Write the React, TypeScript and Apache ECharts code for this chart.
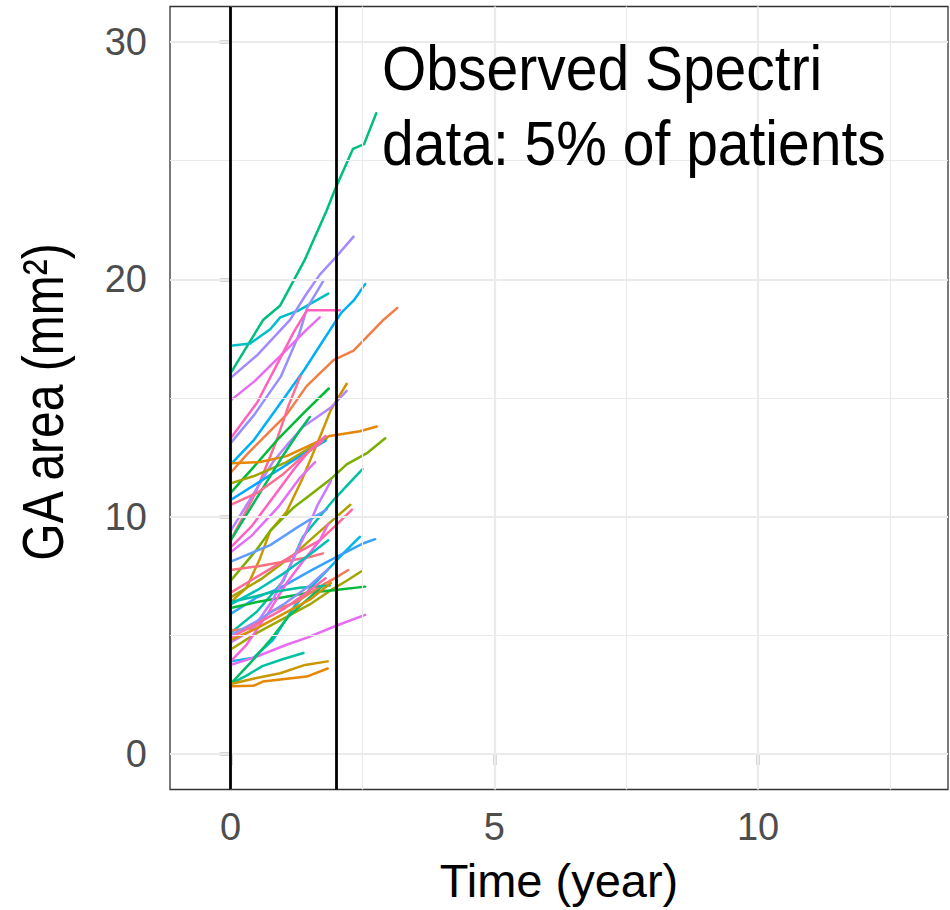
import React, { useEffect, useRef } from "react";
import * as echarts from "echarts";

// Axis ticks and gridlines
const xTicks = [0, 5, 10];
const xMinor = [2.5, 7.5, 12.5];
const yTicks = [0, 10, 20, 30];
const yMinor = [5, 15, 25];
const refLines = [0, 2];

// Observed GA area trajectories (time in years, area in mm²)
const p01 = [[0, 16.05], [0.62, 18.3], [0.94, 18.9], [1.4, 20.8], [1.82, 22.9], [1.98, 23.8], [2.32, 25.5], [2.53, 25.7], [2.76, 27.0]];
const p02 = [[0, 17.2], [0.37, 17.3], [0.75, 17.9], [0.94, 18.4], [1.3, 18.7], [1.85, 19.4]];
const p03 = [[0, 15.85], [0.5, 16.8], [1.13, 18.3], [1.41, 19.3], [1.69, 20.2], [1.98, 20.9], [2.33, 21.8]];
const p04 = [[0, 13.1], [0.45, 14.3], [0.95, 15.9], [1.3, 17.7], [1.45, 18.8], [1.76, 19.95]];
const p05 = [[0, 14.9], [0.45, 15.7], [1.0, 16.9], [1.45, 17.9], [1.69, 18.4]];
const p06 = [[0, 13.3], [0.5, 14.8], [0.9, 16.5], [1.2, 17.8], [1.45, 18.7], [1.82, 18.7], [2.07, 18.7]];
const p07 = [[0, 12.2], [0.43, 13.2], [0.95, 14.8], [1.4, 16.2], [1.69, 17.2], [1.98, 18.2], [2.1, 18.6], [2.33, 19.1], [2.55, 19.8]];
const p08 = [[0, 11.85], [0.3, 12.6], [0.7, 13.5], [1.06, 14.3], [1.44, 15.5], [1.95, 16.6], [2.33, 17.0], [2.9, 18.3], [3.16, 18.8]];
const p09 = [[0, 9.0], [0.45, 10.9], [0.87, 13.2], [1.1, 14.7], [1.32, 15.9]];
const p10 = [[0, 11.0], [0.4, 12.0], [0.87, 13.2], [1.4, 14.4], [1.86, 15.4]];
const p11 = [[0, 6.4], [0.3, 7.0], [0.55, 8.2], [0.75, 9.4], [1.06, 10.2], [1.36, 11.6], [1.7, 13.4], [1.9, 14.5], [2.2, 15.6]];
const p12 = [[0, 9.4], [0.5, 11.2], [0.8, 12.3], [1.06, 13.0], [1.38, 13.8], [1.9, 14.6], [2.2, 15.3]];
const p13 = [[0, 12.25], [0.56, 12.3], [1.06, 12.55], [1.5, 13.0], [1.88, 13.4], [2.45, 13.6], [2.77, 13.8]];
const p14 = [[0, 11.4], [0.43, 11.7], [1.06, 12.3], [1.5, 12.9], [1.82, 13.3]];
const p15 = [[0, 7.3], [0.49, 8.6], [0.75, 9.4], [1.2, 10.4], [1.5, 10.9], [1.88, 11.55], [2.2, 12.2], [2.6, 12.7], [2.93, 13.3]];
const p16 = [[0, 5.1], [0.5, 6.0], [1.0, 7.3], [1.37, 9.15], [1.95, 10.7], [2.2, 11.3], [2.5, 12.0]];
const p17 = [[0, 6.6], [0.6, 7.4], [1.2, 8.4], [1.6, 9.2], [1.88, 9.75], [2.27, 10.5]];
const p18 = [[0, 6.8], [0.6, 7.6], [1.2, 8.4], [1.69, 9.0], [1.98, 9.6], [2.3, 10.3]];
const p19 = [[0, 10.7], [0.5, 11.4], [1.0, 12.1], [1.5, 12.8], [1.8, 13.2]];
const p20 = [[0, 8.7], [0.4, 9.6], [0.8, 10.8], [1.2, 12.0], [1.5, 12.8], [1.8, 13.4]];
const p21 = [[0, 3.9], [0.43, 4.05], [0.8, 4.8], [1.2, 6.2], [1.6, 7.2], [1.9, 7.9], [2.2, 8.6], [2.45, 9.15]];
const p22 = [[0, 5.9], [0.5, 6.6], [0.94, 7.0], [1.5, 7.7], [2.01, 8.3], [2.52, 8.88], [2.74, 9.05]];
const p23 = [[0, 4.4], [0.5, 5.1], [1.0, 5.7], [1.5, 6.3], [1.9, 6.9], [2.2, 7.3], [2.48, 7.7]];
const p24 = [[0, 6.15], [0.5, 6.4], [1.0, 6.6], [1.5, 6.8], [1.95, 6.9], [2.55, 7.05]];
const p25 = [[0, 3.75], [0.43, 4.05], [1.06, 4.6], [1.45, 4.9], [2.0, 5.4], [2.55, 5.86]];
const p26 = [[0, 2.95], [0.3, 3.3], [0.6, 3.7], [1.0, 4.0], [1.38, 4.25]];
const p27 = [[0, 2.95], [0.4, 3.9], [0.75, 4.8], [1.1, 5.8], [1.5, 6.6], [1.8, 7.2]];
const p28 = [[0, 2.95], [0.49, 3.2], [0.94, 3.4], [1.41, 3.75], [1.84, 3.9]];
const p29 = [[0, 2.85], [0.43, 2.87], [0.61, 3.05], [1.44, 3.26], [1.84, 3.6]];
const p30 = [[0, 5.2], [0.43, 5.3], [0.75, 6.0], [1.25, 6.4], [1.69, 7.05], [2.01, 7.45], [2.23, 7.75]];
const p31 = [[0, 7.75], [0.5, 7.9], [1.0, 8.1], [1.5, 8.3], [1.75, 8.45]];
const p32 = [[0, 3.9], [0.3, 4.6], [0.7, 5.9], [1.06, 7.2], [1.4, 8.2], [1.69, 9.0], [1.85, 9.7]];
const p33 = [[0, 4.7], [0.4, 5.2], [0.8, 6.5], [1.1, 7.8], [1.4, 9.2], [1.65, 10.5], [1.9, 11.5]];
const p34 = [[0, 8.1], [0.75, 8.8], [1.3, 9.6], [1.82, 10.3]];
const p35 = [[0, 6.4], [0.4, 6.6], [0.75, 6.8], [1.3, 7.0], [1.88, 7.1]];
const p36 = [[0, 9.0], [0.5, 10.8], [1.0, 12.6], [1.3, 13.6], [1.5, 14.2]];
const p37 = [[0, 10.5], [0.5, 11.0], [1.0, 11.8], [1.4, 12.6], [1.75, 13.2]];
const p38 = [[0, 5.0], [0.5, 5.6], [1.0, 6.3], [1.5, 7.1], [1.85, 7.8]];
const p39 = [[0, 4.8], [0.5, 5.3], [1.0, 5.9], [1.5, 6.5], [1.9, 7.2]];
const p40 = [[0, 6.3], [0.5, 6.9], [1.0, 7.6], [1.5, 8.4], [1.85, 9.0]];
const p41 = [[0, 8.5], [0.4, 9.2], [0.9, 10.4], [1.3, 11.6], [1.6, 12.3]];
const p42 = [[0, 4.9], [0.5, 5.5], [1.0, 6.1], [1.5, 6.9], [1.8, 7.4]];

const patients = [p01, p02, p03, p04, p05, p06, p07, p08, p09, p10, p11, p12, p13, p14, p15, p16, p17, p18, p19, p20, p21, p22, p23, p24, p25, p26, p27, p28, p29, p30, p31, p32, p33, p34, p35, p36, p37, p38, p39, p40, p41, p42];
const patientColors = [
  "#00BF7D", "#00BFC4", "#A58AFF", "#9590FF", "#E76BF3", "#FF62BC", "#00B0F6", "#F07E45", "#FF6C91", "#00BA38",
  "#C99800", "#B983FF", "#E58700", "#A3A500", "#7CAE00", "#00C1A3", "#ABA300", "#FF6A98", "#00A9FF", "#FF61C3",
  "#00B8E7", "#35A2FF", "#A3A500", "#00BA38", "#E76BF3", "#00C19F", "#00BE67", "#C99800", "#E58700", "#F37B59",
  "#FC717F", "#F763E0", "#C77CFF", "#619CFF", "#00BFA0", "#00BD5C", "#FF6C91", "#8494FF", "#D89000", "#00C0B8",
  "#E36EF6", "#FF67A4",
];

const annotationLines = ["Observed Spectri", "data: 5% of patients"];
const xTitle = "Time (year)";
const yTitle = "GA area (mm²)";
const FONT = "'Liberation Sans', Arial, sans-serif";

export default function App() {
  const ref = useRef<HTMLDivElement>(null);
  useEffect(() => {
    const chart = echarts.init(ref.current!, null, { renderer: "svg" });
    const grid = (axis: string, v: number, w: number) => ({
      [axis]: v,
      lineStyle: { color: "#EBEBEB", width: w, type: "solid" },
    });
    const gridData = [
      ...xMinor.map((v) => grid("xAxis", v, 1.2)),
      ...yMinor.map((v) => grid("yAxis", v, 1.2)),
      ...xTicks.map((v) => grid("xAxis", v, 2.2)),
      ...yTicks.map((v) => grid("yAxis", v, 2.2)),
    ];
    const series: any[] = [
      {
        type: "line",
        data: [],
        z: 1,
        silent: true,
        markLine: {
          silent: true,
          symbol: ["none", "none"],
          label: { show: false },
          animation: false,
          data: gridData,
        },
      },
      ...patients.map((p, i) => ({
        type: "line",
        data: p,
        showSymbol: false,
        symbol: "none",
        z: 2,
        lineStyle: { color: patientColors[i], width: 2.5, join: "round", cap: "round" },
        itemStyle: { color: patientColors[i] },
      })),
      {
        type: "line",
        data: [],
        z: 5,
        silent: true,
        markLine: {
          silent: true,
          symbol: ["none", "none"],
          label: { show: false },
          animation: false,
          lineStyle: { color: "#000000", width: 2.8, type: "solid" },
          data: refLines.map((v) => ({ xAxis: v })),
        },
      },
    ];
    chart.setOption({
      animation: false,
      backgroundColor: "#FFFFFF",
      grid: {
        left: 170,
        top: 6.5,
        width: 778,
        height: 783,
        show: true,
        borderColor: "#333333",
        borderWidth: 1.3,
        backgroundColor: "transparent",
      },
      xAxis: {
        type: "value",
        min: -1.15,
        max: 13.6,
        splitLine: { show: false },
        axisLine: { show: false },
        axisTick: { show: true, customValues: xTicks, length: 11, lineStyle: { color: "#333333", width: 2.4 } },
        axisLabel: { customValues: xTicks, color: "#4D4D4D", fontSize: 38, fontFamily: FONT, margin: 18 },
        name: xTitle,
        nameLocation: "middle",
        nameGap: 67,
        nameTextStyle: { color: "#000000", fontSize: 47, fontFamily: FONT },
      },
      yAxis: {
        type: "value",
        min: -1.5,
        max: 31.5,
        splitLine: { show: false },
        axisLine: { show: false },
        axisTick: { show: true, customValues: yTicks, length: 11, lineStyle: { color: "#333333", width: 2.4 } },
        axisLabel: { customValues: yTicks, color: "#4D4D4D", fontSize: 38, fontFamily: FONT, margin: 23 },
      },
      graphic: [
        {
          type: "text",
          x: 382,
          y: 31,
          scaleY: 1.1,
          z: 10,
          style: {
            text: annotationLines.join("\n"),
            font: `57px ${FONT}`,
            lineHeight: 68,
            verticalAlign: "top",
            fill: "#000000",
          },
        },
        {
          type: "text",
          x: 43,
          y: 402,
          rotation: Math.PI / 2,
          scaleY: 1.2,
          z: 10,
          style: {
            text: yTitle,
            font: `48px ${FONT}`,
            align: "center",
            verticalAlign: "middle",
            fill: "#000000",
          },
        },
      ],
      series,
    });
    return () => chart.dispose();
  }, []);
  return <div ref={ref} style={{ position: "absolute", left: 0, top: 0, width: 950, height: 910 }} />;
}
